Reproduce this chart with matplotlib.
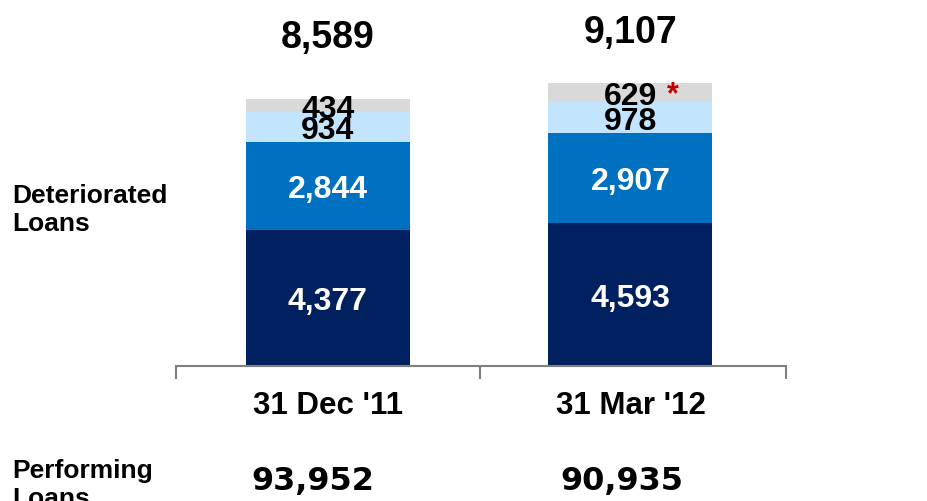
import matplotlib.pyplot as plt

# data
dates = ["31 Dec '11", "31 Mar '12"]
seg_dark = [4377, 4593]
seg_mid = [2844, 2907]
seg_light = [934, 978]
seg_grey = [434, 629]
totals = [8589, 9107]
performing = [93952, 90935]

colors = ["#002060", "#0070C0", "#C2E4FC", "#D9D9D9"]
text_colors = ["white", "white", "black", "black"]

W, H = 928, 502
fig = plt.figure(figsize=(W / 100, H / 100), dpi=100)
plt.rcParams['font.family'] = ['Liberation Sans', 'DejaVu Sans']

# axes: baseline at y=367px, x from 176 to 786px
ax = fig.add_axes([176 / W, (H - 367) / H, (786 - 176) / W, 367 / H])
px_per_unit = 267 / 8589
ax.set_ylim(0, 367 / px_per_unit)
ax.set_xlim(-0.502, 1.514)

x = [0, 1]
bottom = [0, 0]
for vals, col, tcol in zip([seg_dark, seg_mid, seg_light, seg_grey], colors, text_colors):
    ax.bar(x, vals, width=0.542, bottom=bottom, color=col, edgecolor='none')
    for xi, v, b in zip(x, vals, bottom):
        ax.annotate(f"{v:,}", (xi, b + v / 2), xytext=(0, -8.2), textcoords='offset points',
                    ha='center', va='baseline', fontsize=23, fontweight='bold', color=tcol)
    bottom = [b + v for b, v in zip(bottom, vals)]

# red asterisk next to the 629 segment
ax.annotate("*", (1.14, bottom[1]), xytext=(0, -14), textcoords='offset points',
            ha='center', va='baseline', fontsize=22, fontweight='bold', color='#C00000')

# totals above bars
tot_y = [453.7, 459.3]
for xi, t, ty in zip(x, totals, tot_y):
    ax.annotate(f"{t:,}", (xi, ty), xycoords=('data', 'figure pixels'),
                ha='center', va='baseline', fontsize=27, fontweight='bold')

# performing loans below
perf_dx = [-0.05, -0.028]
for xi, p, dx in zip(x, performing, perf_dx):
    ax.annotate(f"{p:,}", (xi + dx, H - 490), xycoords=('data', 'figure pixels'),
                ha='center', va='baseline', fontsize=23, fontweight='bold',
                family='DejaVu Sans')

for s in ['top', 'right', 'left']:
    ax.spines[s].set_visible(False)
ax.spines['bottom'].set_color('#808080')
ax.spines['bottom'].set_linewidth(1.5)
ax.set_yticks([])
ax.set_xticks([-0.502, 0.5025, 1.514])
ax.set_xticklabels([])
ax.tick_params(axis='x', which='major', direction='out', length=9.5, width=1.5, color='#808080')
ax.set_xticks(x, minor=True)
ax.set_xticklabels(dates, minor=True, fontsize=22.5, fontweight='bold')
ax.tick_params(axis='x', which='minor', length=0, pad=17)

# side labels, anchored at the baseline of their last line
fig.text(12 / W, 1 - 231 / H, "Deteriorated\nLoans", ha='left', va='baseline',
         fontsize=19, fontweight='bold', linespacing=1.22)
fig.text(12 / W, 1 - 506 / H, "Performing\nLoans", ha='left', va='baseline',
         fontsize=19, fontweight='bold', linespacing=1.22)

fig.savefig("out.png", dpi=100)
